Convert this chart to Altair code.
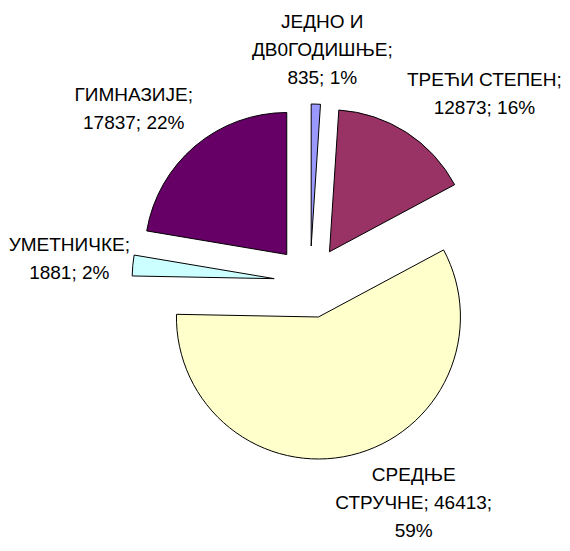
import altair as alt
import pandas as pd

# ---- data ----
categories = ["ЈЕДНО И ДВ0ГОДИШЊЕ", "ТРЕЋИ СТЕПЕН", "СРЕДЊЕ СТРУЧНЕ", "УМЕТНИЧКЕ", "ГИМНАЗИЈЕ"]
values = [835, 12873, 46413, 1881, 17837]
percents = [1, 16, 59, 2, 22]
labels = [
    "ЈЕДНО И\nДВ0ГОДИШЊЕ;\n835; 1%",
    "ТРЕЋИ СТЕПЕН;\n12873; 16%",
    "СРЕДЊЕ\nСТРУЧНЕ; 46413;\n59%",
    "УМЕТНИЧКЕ;\n1881; 2%",
    "ГИМНАЗИЈЕ;\n17837; 22%",
]
colors = ["#9999FF", "#993366", "#FFFFCC", "#CCFFFF", "#660066"]

# ---- layout ----
W, H = 554, 535
CX, CY = 302, 274      # pie centre (chart coordinates)
R = 142                # pie radius
EXPLODE = 36           # radial offset of every slice
LRX, LRY = 184, 190    # label anchor ellipse radii
FONT = 19
LINE_H = 28
CHAR_W = 11.5
BOTTOM_PAD = 12        # keep last text line inside the chart

df = pd.DataFrame({
    "idx": list(range(len(categories))),
    "cat": categories,
    "value": values,
    "pct": percents,
    "label": labels,
})
df["hw"] = [max(len(s) for s in t.split("\n")) * CHAR_W / 2 for t in labels]
df["nl"] = [len(t.split("\n")) for t in labels]

base = alt.Chart(df).transform_joinaggregate(
    total="sum(value)"
).transform_window(
    cum="sum(value)", sort=[alt.SortField("idx")], frame=[None, 0]
).transform_calculate(
    a0="2*PI*(datum.cum - datum.value)/datum.total",
    a1="2*PI*datum.cum/datum.total",
    hh=f"datum.nl*{LINE_H}/2",
).transform_calculate(
    mid="(datum.a0 + datum.a1)/2",
).transform_calculate(
    ax=f"{CX} + {EXPLODE}*sin(datum.mid)",
    ay=f"{CY} - {EXPLODE}*cos(datum.mid)",
    px=f"{CX} + {LRX}*sin(datum.mid)",
    py=f"{CY} - {LRY}*cos(datum.mid)",
).transform_calculate(
    lx="datum.px + datum.hw*clamp(3*sin(datum.mid), -1, 1)",
    lc="datum.py + datum.hh*clamp(-2*cos(datum.mid), -1, 1)",
).transform_calculate(
    ly=f"min(datum.lc - (datum.nl - 1)*{LINE_H}/2, {H - BOTTOM_PAD} - (datum.nl - 1)*{LINE_H})",
)

arcs = base.mark_arc(radius=R, stroke="black", strokeWidth=1).encode(
    x=alt.X("ax:Q", scale=None, axis=None),
    y=alt.Y("ay:Q", scale=None, axis=None),
    theta=alt.Theta("a0:Q", scale=None),
    theta2=alt.Theta2("a1:Q"),
    color=alt.Color("cat:N", scale=alt.Scale(domain=categories, range=colors), legend=None),
)

texts = base.mark_text(
    font="Liberation Sans", fontSize=FONT, lineHeight=LINE_H, lineBreak="\n",
    align="center", baseline="middle", color="black",
).encode(
    x=alt.X("lx:Q", scale=None, axis=None),
    y=alt.Y("ly:Q", scale=None, axis=None),
    text="label:N",
)

chart = alt.layer(arcs, texts).properties(
    width=W, height=H, padding=0, autosize="none", background="white"
).configure_view(stroke=None)

chart.save("out.html", embed_options={"renderer": "svg", "actions": False})
